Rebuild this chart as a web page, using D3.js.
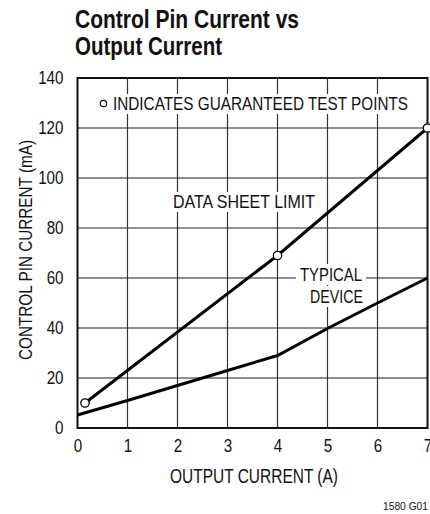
<!DOCTYPE html>
<html><head><meta charset="utf-8">
<script src="https://cdn.jsdelivr.net/npm/d3@7"></script>
<style>
body{margin:0;background:#fff;}
svg text{font-family:"Liberation Sans",Arial,sans-serif;fill:#111;}
</style></head>
<body><svg id="c" width="430" height="514"></svg>
<script>
const xTicks=[0,1,2,3,4,5,6,7];
const yTicks=[0,20,40,60,80,100,120,140];
const limitX=[0.15,4,7];
const limitY=[10,69,120];
const testX=[0.15,4,7];
const testY=[10,69,120];
const typicalX=[0,1,2,3,4,5,6,7];
const typicalY=[5.2,11,17,23,29,39.8,50,60];

const svg=d3.select("#c");
const L=77.5,R=427.5,T=78,B=428;
const x=d3.scaleLinear().domain([0,7]).range([L,R]);
const y=d3.scaleLinear().domain([0,140]).range([B,T]);

function fit(t,w){t.attr("textLength",w).attr("lengthAdjust","spacingAndGlyphs");return t;}
function squeeze(t,f){t.each(function(){const n=d3.select(this);const w=this.getComputedTextLength();n.attr("textLength",w*f).attr("lengthAdjust","spacingAndGlyphs");});return t;}

// title
fit(svg.append("text").attr("x",75).attr("y",28).attr("font-size",25).attr("font-weight","bold").text("Control Pin Current vs"),224);
fit(svg.append("text").attr("x",75).attr("y",55).attr("font-size",25).attr("font-weight","bold").text("Output Current"),147);

// grid
const g=svg.append("g");
g.selectAll(".vx").data(xTicks.slice(1,-1)).join("line").attr("x1",d=>x(d)).attr("x2",d=>x(d)).attr("y1",T).attr("y2",B).attr("stroke","#333").attr("stroke-width",1.2);
g.selectAll(".hy").data(yTicks.slice(1,-1)).join("line").attr("y1",d=>y(d)).attr("y2",d=>y(d)).attr("x1",L).attr("x2",R).attr("stroke","#222").attr("stroke-width",1.2);

// labels with white boxes
function boxed(tx,ty,txt,size,anchor,w,padX,padY){
  const gg=svg.append("g");
  const r=gg.append("rect").attr("fill","#fff");
  const t=fit(gg.append("text").attr("x",tx).attr("y",ty).attr("font-size",size).attr("text-anchor",anchor).text(txt),w);
  const b=t.node().getBBox();
  r.attr("x",b.x-padX).attr("y",b.y-padY).attr("width",b.width+2*padX).attr("height",b.height+2*padY);
  return gg;
}
boxed(113,110,"INDICATES GUARANTEED TEST POINTS",18,"start",295,3,0);
svg.append("circle").attr("cx",103.5).attr("cy",103.5).attr("r",3.2).attr("fill","#fff").attr("stroke","#111").attr("stroke-width",1.2);
boxed(173,208,"DATA SHEET LIMIT",18,"start",142,2,0);
boxed(362,281,"TYPICAL",18.5,"end",62,4,0);
boxed(363,303,"DEVICE",18.5,"end",53,4,0);

// border
svg.append("rect").attr("x",L).attr("y",T).attr("width",R-L).attr("height",B-T).attr("fill","none").attr("stroke","#111").attr("stroke-width",2);

// axes (labels only)
const xa=svg.append("g").attr("transform",`translate(0,${B})`).call(d3.axisBottom(x).tickValues(xTicks).tickSize(0).tickPadding(11).tickFormat(d3.format("d")));
const ya=svg.append("g").attr("transform",`translate(${L},0)`).call(d3.axisLeft(y).tickValues(yTicks).tickSize(0).tickPadding(14).tickFormat(d3.format("d")));
[xa,ya].forEach(a=>{a.select(".domain").remove();a.selectAll("text").attr("font-size",18.5).attr("font-family",null).attr("fill","#111");});
squeeze(xa.selectAll("text"),0.82);
squeeze(ya.selectAll("text"),0.82);

// lines
const line=d3.line().x(d=>x(d[0])).y(d=>y(d[1]));
svg.append("path").datum(limitX.map((v,i)=>[v,limitY[i]])).attr("d",line).attr("fill","none").attr("stroke","#000").attr("stroke-width",3);
svg.append("path").datum(typicalX.map((v,i)=>[v,typicalY[i]])).attr("d",line).attr("fill","none").attr("stroke","#000").attr("stroke-width",3);
svg.selectAll(".pt").data(testX.map((v,i)=>[v,testY[i]])).join("circle").attr("cx",d=>x(d[0])).attr("cy",d=>y(d[1])).attr("r",4.2).attr("fill","#fff").attr("stroke","#000").attr("stroke-width",1.3);

// axis titles
fit(svg.append("text").attr("x",170).attr("y",483).attr("font-size",19.5).text("OUTPUT CURRENT (A)"),168);
fit(svg.append("text").attr("transform",`translate(32,360) rotate(-90)`).attr("font-size",18.5).text("CONTROL PIN CURRENT (mA)"),220);
fit(svg.append("text").attr("x",383).attr("y",510).attr("font-size",11).text("1580 G01"),45);
</script></body></html>
